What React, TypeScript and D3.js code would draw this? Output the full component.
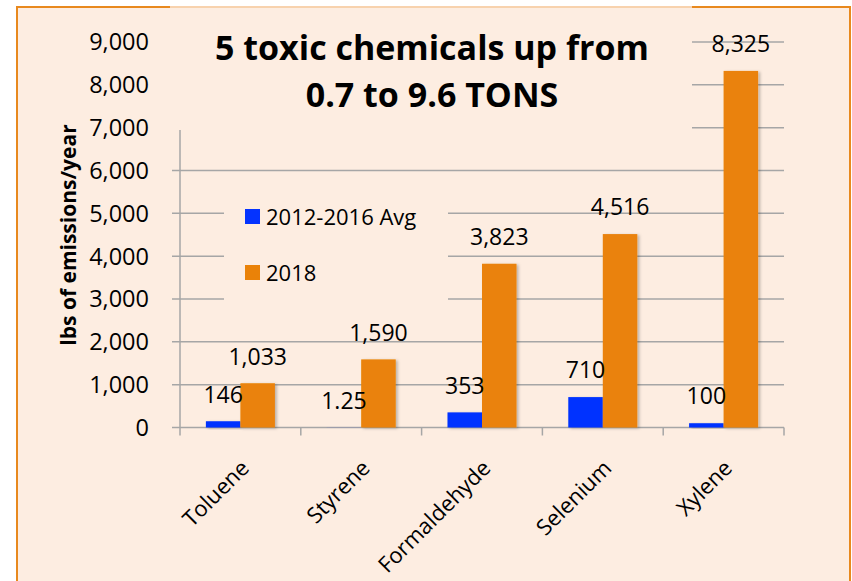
import React, { useEffect, useRef } from 'react';
import * as d3 from 'd3';

const categories = ['Toluene', 'Styrene', 'Formaldehyde', 'Selenium', 'Xylene'];
const seriesNames = ['2012-2016 Avg', '2018'];
const avgValues = [146, 1.25, 353, 710, 100];
const values2018 = [1033, 1590, 3823, 4516, 8325];
const yTicks = [0, 1000, 2000, 3000, 4000, 5000, 6000, 7000, 8000, 9000];
const titleLines = ['5 toxic chemicals up from', '0.7 to 9.6 TONS'];
const yTitle = 'lbs of emissions/year';

const colors = ['#0433FF', '#EA8208'];
const bg = '#FDEDE1';
const gridColor = '#A6A6A6';
const font = '"Open Sans", Lato, sans-serif';

const App = () => {
  const ref = useRef<SVGSVGElement>(null);

  useEffect(() => {
    const svg = d3.select(ref.current);
    svg.selectAll('*').remove();

    const W = 852;
    const H = 581;
    const plot = { left: 180, right: 784, top: 42, bottom: 427.5 };

    const x0 = d3.scaleBand<string>().domain(categories).range([plot.left, plot.right]);
    const x1 = d3
      .scaleBand<string>()
      .domain(seriesNames)
      .range([0, x0.bandwidth()])
      .paddingInner(0)
      .paddingOuter(0.75);
    const y = d3.scaleLinear().domain([0, 9000]).range([plot.bottom, plot.top]);
    const fmt = d3.format(',');

    const defs = svg.append('defs');
    defs
      .append('filter')
      .attr('id', 'shadow')
      .attr('x', '-20%')
      .attr('y', '-20%')
      .attr('width', '150%')
      .attr('height', '150%')
      .append('feDropShadow')
      .attr('dx', 2)
      .attr('dy', 1)
      .attr('stdDeviation', 1.5)
      .attr('flood-color', '#000')
      .attr('flood-opacity', 0.25);

    // page + chart area
    svg.append('rect').attr('width', W).attr('height', H).attr('fill', '#fff');
    svg
      .append('rect')
      .attr('x', 17)
      .attr('y', 7)
      .attr('width', 833)
      .attr('height', H)
      .attr('fill', bg)
      .attr('stroke', '#E8891E')
      .attr('stroke-width', 2);

    // gridlines
    svg
      .append('g')
      .selectAll('line')
      .data(yTicks.filter((d) => d > 0))
      .join('line')
      .attr('x1', plot.left - 8)
      .attr('x2', plot.right)
      .attr('y1', (d) => y(d))
      .attr('y2', (d) => y(d))
      .attr('stroke', gridColor)
      .attr('stroke-width', 1.5);

    // axis lines + ticks
    svg
      .append('line')
      .attr('x1', plot.left)
      .attr('x2', plot.left)
      .attr('y1', plot.top)
      .attr('y2', plot.bottom + 8)
      .attr('stroke', gridColor)
      .attr('stroke-width', 1.5);
    svg
      .append('line')
      .attr('x1', plot.left - 8)
      .attr('x2', plot.right)
      .attr('y1', plot.bottom)
      .attr('y2', plot.bottom)
      .attr('stroke', gridColor)
      .attr('stroke-width', 1.5);
    svg
      .append('g')
      .selectAll('line')
      .data(categories)
      .join('line')
      .attr('x1', (d) => (x0(d) as number) + x0.bandwidth())
      .attr('x2', (d) => (x0(d) as number) + x0.bandwidth())
      .attr('y1', plot.bottom)
      .attr('y2', plot.bottom + 8)
      .attr('stroke', gridColor)
      .attr('stroke-width', 1.5);

    // title box hides gridlines behind it
    svg.append('rect').attr('x', 170).attr('y', 6).attr('width', 522).attr('height', 124).attr('fill', bg);
    svg.append('line').attr('x1', 170).attr('x2', 692).attr('y1', 7).attr('y2', 7).attr('stroke', '#F2B77A').attr('stroke-width', 1);

    // legend box
    svg.append('rect').attr('x', 224).attr('y', 185).attr('width', 224).attr('height', 120).attr('fill', bg);

    // bars
    const data = categories.map((c, i) => ({ cat: c, vals: [avgValues[i], values2018[i]] }));
    const groups = svg
      .append('g')
      .selectAll('g')
      .data(data)
      .join('g')
      .attr('transform', (d) => `translate(${x0(d.cat)},0)`);

    groups
      .selectAll('rect')
      .data((d) => d.vals.map((v, j) => ({ v, s: seriesNames[j], j })))
      .join('rect')
      .attr('x', (d) => x1(d.s) as number)
      .attr('width', x1.bandwidth())
      .attr('y', (d) => y(d.v))
      .attr('height', (d) => plot.bottom - y(d.v))
      .attr('fill', (d) => colors[d.j])
      .attr('filter', 'url(#shadow)');

    groups
      .selectAll('text')
      .data((d) => d.vals.map((v, j) => ({ v, s: seriesNames[j] })))
      .join('text')
      .attr('x', (d) => (x1(d.s) as number) + x1.bandwidth() / 2)
      .attr('y', (d) => y(d.v) - 27)
      .attr('dy', '0.36em')
      .attr('text-anchor', 'middle')
      .attr('font-family', font)
      .attr('font-size', 23)
      .attr('fill', '#000')
      .text((d) => fmt(d.v));

    // y tick labels
    svg
      .append('g')
      .selectAll('text')
      .data(yTicks)
      .join('text')
      .attr('x', 149)
      .attr('y', (d) => y(d))
      .attr('dy', '0.36em')
      .attr('text-anchor', 'end')
      .attr('font-family', font)
      .attr('font-size', 23.5)
      .text((d) => fmt(d));

    // category labels
    svg
      .append('g')
      .selectAll('text')
      .data(categories)
      .join('text')
      .attr('transform', (d) => `translate(${(x0(d) as number) + x0.bandwidth() / 2 + 10},${plot.bottom + 42}) rotate(-45)`)
      .attr('text-anchor', 'end')
      .attr('font-family', font)
      .attr('font-size', 22)
      .text((d) => d);

    // y axis title
    svg
      .append('text')
      .attr('transform', `translate(68,235) rotate(-90)`)
      .attr('text-anchor', 'middle')
      .attr('dy', '0.36em')
      .attr('font-family', font)
      .attr('font-weight', 'bold')
      .attr('font-size', 21)
      .text(yTitle);

    // title
    svg
      .append('g')
      .selectAll('text')
      .data(titleLines)
      .join('text')
      .attr('x', 432)
      .attr('y', (d, i) => 60 + i * 47)
      .attr('text-anchor', 'middle')
      .attr('font-family', font)
      .attr('font-weight', 'bold')
      .attr('font-size', 34)
      .text((d) => d);

    // legend
    const legend = svg
      .append('g')
      .selectAll('g')
      .data(seriesNames)
      .join('g')
      .attr('transform', (d, i) => `translate(245,${209 + i * 56})`);
    legend.append('rect').attr('width', 15).attr('height', 15).attr('fill', (d, i) => colors[i]);
    legend
      .append('text')
      .attr('x', 21)
      .attr('y', 8)
      .attr('dy', '0.36em')
      .attr('font-family', font)
      .attr('font-size', 22)
      .text((d) => d);
  }, []);

  return (
    <div style={{ position: 'absolute', left: 0, top: 0 }}>
      <svg ref={ref} width={852} height={581} style={{ display: 'block' }}></svg>
    </div>
  );
};

export default App;
